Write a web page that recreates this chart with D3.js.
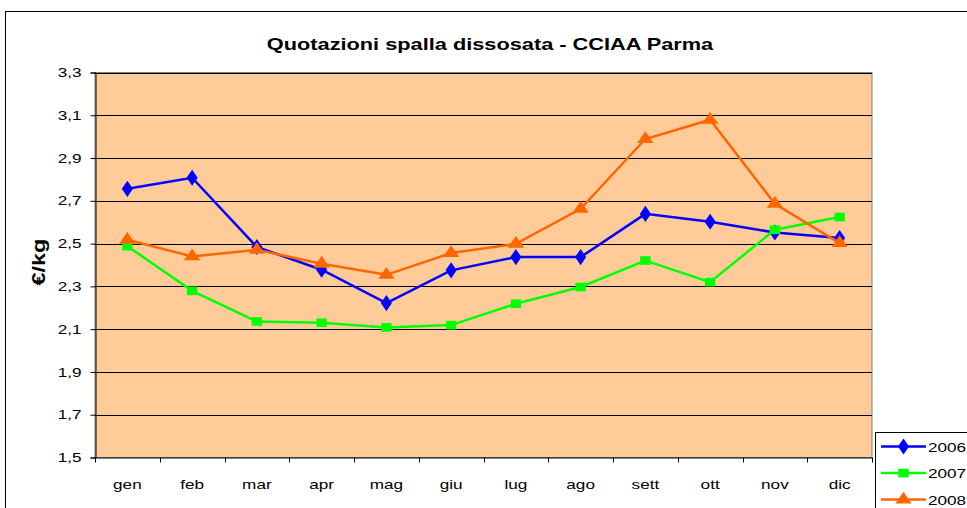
<!DOCTYPE html>
<html>
<head>
<meta charset="utf-8">
<script src="https://cdn.jsdelivr.net/npm/d3@7"></script>
<style>
body { margin: 0; background: #fff; }
svg { display: block; font-family: "Liberation Sans", Arial, sans-serif; }
</style>
</head>
<body>
<script>
var months = ["gen", "feb", "mar", "apr", "mag", "giu", "lug", "ago", "sett", "ott", "nov", "dic"];
var y2006 = [2.756, 2.808, 2.484, 2.378, 2.222, 2.375, 2.437, 2.437, 2.639, 2.602, 2.552, 2.526];
var y2007 = [2.488, 2.279, 2.136, 2.130, 2.108, 2.119, 2.219, 2.297, 2.421, 2.320, 2.565, 2.624];
var y2008 = [2.518, 2.440, 2.471, 2.406, 2.354, 2.456, 2.499, 2.663, 2.989, 3.079, 2.686, 2.502];
var yTicks = [1.5, 1.7, 1.9, 2.1, 2.3, 2.5, 2.7, 2.9, 3.1, 3.3];
var seriesNames = ["2006", "2007", "2008"];

var width = 967,
height = 508;

// the source picture is a bit wider than tall, text looks stretched
var sx = 1.32;

var plot = {left: 95, top: 72.5, right: 872, bottom: 457.5};

var series = [
  {name: seriesNames[0], values: y2006, color: "#0000ff", shape: d3.symbolDiamond, size: 75},
  {name: seriesNames[1], values: y2007, color: "#00ff00", shape: d3.symbolSquare, size: 75},
  {name: seriesNames[2], values: y2008, color: "#ff6600", shape: d3.symbolTriangle, size: 80}
];

// squash x positions then scale back up so the glyphs get wider
function stretch(sel, k) {
  sel.each(function() {
    var t = d3.select(this);
    var x0 = +t.attr("x") || 0;
    t.attr("x", x0 / k).attr("transform", "scale(" + k + ",1)");
  });
}

var svg = d3.select("body").append("svg")
  .attr("width", width)
  .attr("height", height);

// outer chart border (runs off the page to the right and bottom)
svg.append("rect")
  .attr("x", 5.5).attr("y", 11.5)
  .attr("width", 1000).attr("height", 540)
  .attr("fill", "#fff")
  .attr("stroke", "#000");

var x = d3.scaleBand()
  .domain(months)
  .range([plot.left, plot.right]);

var y = d3.scaleLinear()
  .domain([1.5, 3.3])
  .range([plot.bottom, plot.top]);

// plot area
svg.append("rect")
  .attr("x", plot.left).attr("y", plot.top)
  .attr("width", plot.right - plot.left).attr("height", plot.bottom - plot.top)
  .attr("fill", "#ffcc99")
  .attr("stroke", "#808080");

// gridlines
svg.append("g").selectAll("line")
  .data(yTicks.slice(1))
  .enter().append("line")
  .attr("x1", plot.left).attr("x2", plot.right)
  .attr("y1", function(d) { return Math.round(y(d)) + 0.5; })
  .attr("y2", function(d) { return Math.round(y(d)) + 0.5; })
  .attr("stroke", "#000")
  .attr("stroke-width", 1);

var fmt = function(d) { return d3.format(".1f")(d).replace(".", ","); };

var yAxis = svg.append("g")
  .attr("transform", "translate(" + (plot.left + 0.5) + ",0)")
  .call(d3.axisLeft(y).tickValues(yTicks).tickFormat(fmt).tickSize(5).tickPadding(9));

var xAxis = svg.append("g")
  .attr("transform", "translate(0," + (plot.bottom + 0.5) + ")")
  .call(d3.axisBottom(x).tickSize(0).tickPadding(22));

// x tick marks sit between the categories
svg.append("g").selectAll("line")
  .data(d3.range(months.length + 1))
  .enter().append("line")
  .attr("x1", function(i) { return Math.round(plot.left + i * x.step()) + 0.5; })
  .attr("x2", function(i) { return Math.round(plot.left + i * x.step()) + 0.5; })
  .attr("y1", plot.bottom).attr("y2", plot.bottom + 5)
  .attr("stroke", "#000");

[yAxis, xAxis].forEach(function(a) {
  a.select(".domain").attr("stroke", "#000");
  a.selectAll(".tick line").attr("stroke", "#000");
  a.selectAll("text")
    .attr("fill", "#000")
    .style("font-size", "13px")
    .style("font-family", "'Liberation Sans', Arial, sans-serif");
  stretch(a.selectAll("text"), sx);
});
xAxis.select(".domain").attr("d", "M" + plot.left + ",0H" + plot.right);

// title
svg.append("text")
  .attr("x", 490).attr("y", 50)
  .attr("text-anchor", "middle")
  .style("font-size", "17px")
  .style("font-weight", "bold")
  .text("Quotazioni spalla dissosata - CCIAA Parma")
  .call(stretch, 1.28);

// y label
svg.append("g")
  .attr("transform", "translate(45,262) rotate(-90)")
  .append("text")
  .attr("text-anchor", "middle")
  .style("font-size", "18px")
  .style("font-weight", "bold")
  .text("€/kg")
  .call(stretch, 1.3);

var line = d3.line()
  .x(function(d, i) { return x(months[i]) + x.bandwidth() / 2; })
  .y(function(d) { return y(d); });

series.forEach(function(s) {
  svg.append("path")
    .datum(s.values)
    .attr("d", line)
    .attr("fill", "none")
    .attr("stroke", s.color)
    .attr("stroke-width", 2.5);

  svg.append("g").selectAll("path")
    .data(s.values)
    .enter().append("path")
    .attr("transform", function(d, i) {
      return "translate(" + (x(months[i]) + x.bandwidth() / 2) + "," + y(d) + ") scale(1.2,1)";
    })
    .attr("d", d3.symbol().type(s.shape).size(s.size))
    .attr("fill", s.color);
});

// legend
var legend = svg.append("g");
legend.append("rect")
  .attr("x", 875.5).attr("y", 432.5)
  .attr("width", 120).attr("height", 100)
  .attr("fill", "#fff")
  .attr("stroke", "#000");

var item = legend.selectAll(".item")
  .data(series)
  .enter().append("g")
  .attr("class", "item")
  .attr("transform", function(d, i) { return "translate(0," + (446.5 + i * 26.5) + ")"; });

item.append("line")
  .attr("x1", 881).attr("x2", 926)
  .attr("stroke", function(d) { return d.color; })
  .attr("stroke-width", 2.5);

item.append("path")
  .attr("transform", "translate(903.5,0) scale(1.2,1)")
  .attr("d", function(d) { return d3.symbol().type(d.shape).size(d.size)(); })
  .attr("fill", function(d) { return d.color; });

item.append("text")
  .attr("x", 928).attr("y", 5)
  .style("font-size", "13px")
  .text(function(d) { return d.name; })
  .call(stretch, sx);
</script>
</body>
</html>
